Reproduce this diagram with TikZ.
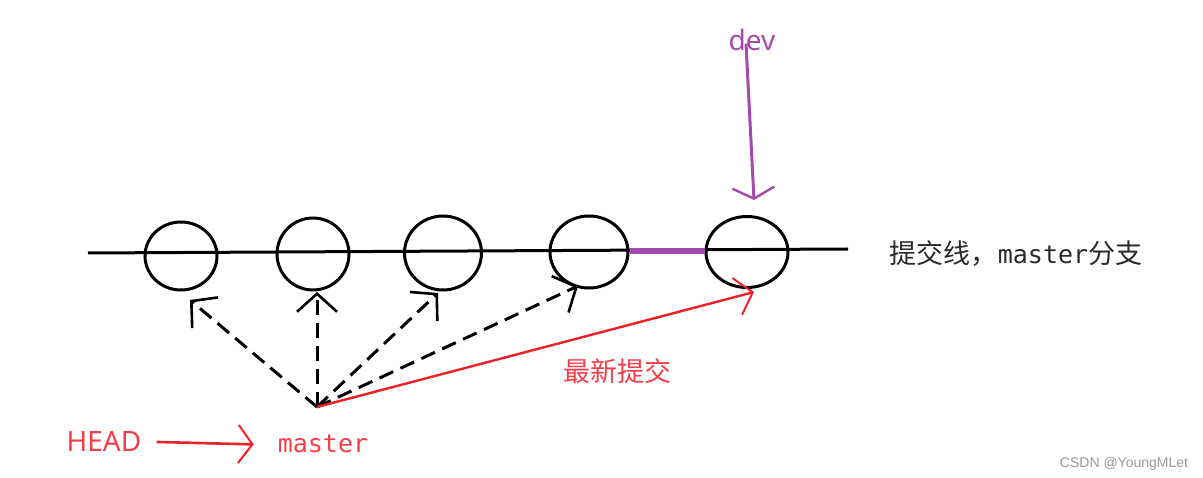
\documentclass[tikz,border=0pt]{standalone}
\usepackage{fontspec}
\newfontfamily\cjk{Noto Sans CJK SC}
\newfontfamily\monof{DejaVu Sans Mono}
\newfontfamily\sansf{Noto Sans}
\newfontfamily\wmf{Liberation Sans}
\usetikzlibrary{shapes.geometric,arrows.meta}
\definecolor{inkred}{HTML}{EC2228}
\definecolor{txtred}{HTML}{F2404A}
\definecolor{devpurple}{HTML}{A44AAC}
\definecolor{txtgray}{HTML}{2A2A2A}
\definecolor{wmgray}{HTML}{9A9A9A}
\tikzset{
  commit/.style={draw=black, ellipse, line width=3pt, inner sep=0pt},
  lbl/.style={inner sep=0pt, anchor=base},
  ptr/.style={draw=black, line width=3pt, dash pattern=on 15pt off 8pt,
    -{Straight Barb[length=18pt,width=40pt,line width=2.6pt]}},
  newest/.style={draw=inkred, line width=2.4pt,
    -{Straight Barb[length=16pt,width=38pt,line width=2pt]}},
  headarrow/.style={draw=inkred, line width=2.6pt,
    -{Straight Barb[length=14pt,width=38pt,line width=2pt]}},
  devarrow/.style={draw=devpurple, line width=3pt,
    -{Straight Barb[length=11pt,width=42pt,line width=2.4pt]}},
}
\begin{document}
\begin{tikzpicture}[x=1pt,y=-1pt]
\fill[white] (0,0) rectangle (1203,478);
\useasboundingbox (0,0) rectangle (1203,478);

% commit line
\coordinate (L) at (88,253);
\coordinate (R) at (848,249);
\draw[line width=3pt] (L) -- (R);

% commits
\node[commit, minimum width=72pt, minimum height=68pt] (e1) at (181,256) {};
\node[commit, minimum width=72pt, minimum height=72pt] (e2) at (313,254) {};
\node[commit, minimum width=77pt, minimum height=74pt] (e3) at (443,253) {};
\node[commit, minimum width=78pt, minimum height=72pt] (e4) at (589,252) {};
\node[commit, minimum width=82pt, minimum height=71pt] (e5) at (747,252) {};

% purple segment (dev branch)
\draw[devpurple, line width=6pt] ([yshift=1pt]e4.east) -- ([yshift=1pt]e5.west);

% dev label and arrow
\node[lbl, text=devpurple, font=\sansf\fontsize{28}{30}\selectfont] (dev) at (752,51) {dev};
\coordinate (devtip) at (754,200);
\draw[devarrow] ([xshift=-6pt,yshift=-14pt]dev.north) -- (devtip);

% side label
\node[lbl, text=txtgray] (side) at (1016,264)
  {{\cjk\fontsize{27}{29}\selectfont 提交线，}{\monof\fontsize{25}{27}\selectfont master}{\cjk\fontsize{27}{29}\selectfont 分支}};

% pointer origin and targets
\coordinate (O) at (317,407);
\coordinate (t1) at (190,300);
\coordinate (t2) at (317,292);
\coordinate (t3) at (438,293);
\coordinate (t4) at (578,286);
\coordinate (t5) at (754,292);
\draw[ptr] (O) -- (t1);
\draw[ptr] (O) -- (t2);
\draw[ptr] (O) -- (t3);
\draw[ptr] (O) -- (t4);
\draw[newest] (O) -- (t5);

\node[lbl, text=txtred, font=\cjk\fontsize{27}{29}\selectfont] (newlbl) at (617,382) {最新提交};

% HEAD -> master
\node[lbl, text=txtred, font=\sansf\fontsize{28}{30}\selectfont] (HEAD) at (104,451) {HEAD};
\node[lbl, text=txtred, font=\monof\fontsize{25}{27}\selectfont] (mastr) at (323,452) {master};
\draw[headarrow] ([xshift=15pt,yshift=-1pt]HEAD.east) -- ([xshift=-24pt,yshift=-1pt]mastr.west);

% watermark
\node[lbl, text=wmgray, font=\wmf\fontsize{14}{16}\selectfont] (wm) at (1124,467) {CSDN @YoungMLet};
\end{tikzpicture}
\end{document}
